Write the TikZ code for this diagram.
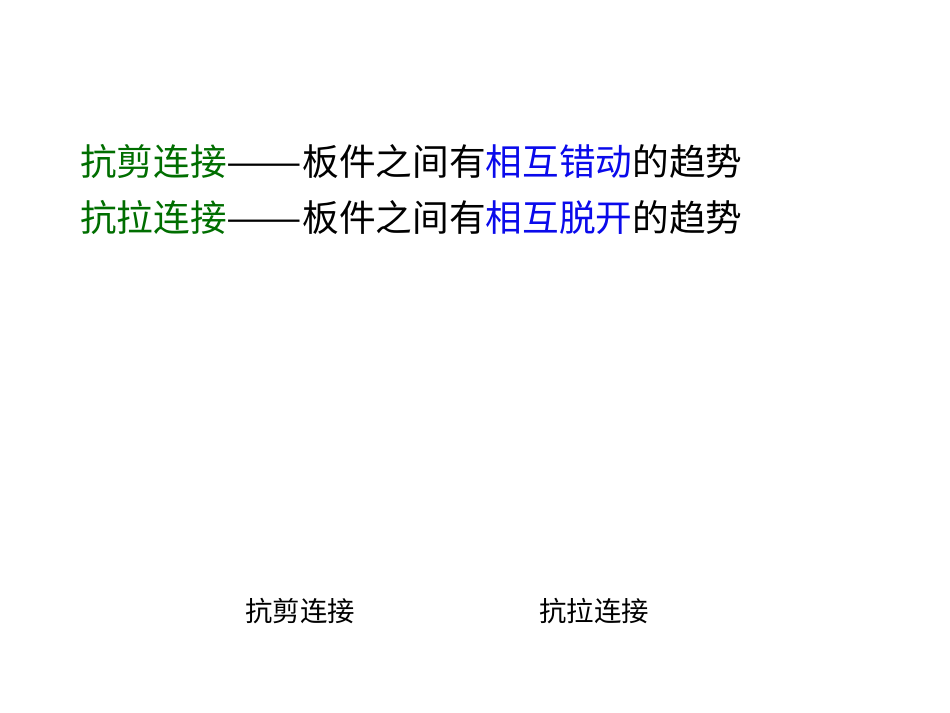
\documentclass[tikz,border=0pt]{standalone}
\usepackage{fontspec}
\usepackage{graphicx}
\newfontfamily\cjk{Noto Sans CJK SC}
\definecolor{tgreen}{RGB}{0,110,0}
\definecolor{tblue}{RGB}{10,10,235}
\newcommand{\wdash}{\scalebox{1.23}[1]{——}}
\begin{document}
\begin{tikzpicture}[x=1bp,y=-1bp,
  big/.style={anchor=west,inner sep=0,font=\cjk\fontsize{36.8}{40}\selectfont},
  small/.style={anchor=center,inner sep=0,font=\cjk\fontsize{27.5}{30}\selectfont}]
\useasboundingbox (0,0) rectangle (950,713);
\node[big] (l1) at (80,162) {\textcolor{tgreen}{抗剪连接}\wdash 板件之间有\textcolor{tblue}{相互错动}的趋势};
\node[big] (l2) at (80,218) {\textcolor{tgreen}{抗拉连接}\wdash 板件之间有\textcolor{tblue}{相互脱开}的趋势};
\node[small] (a) at (300,611) {抗剪连接};
\node[small] (b) at (594,611) {抗拉连接};
\end{tikzpicture}
\end{document}
